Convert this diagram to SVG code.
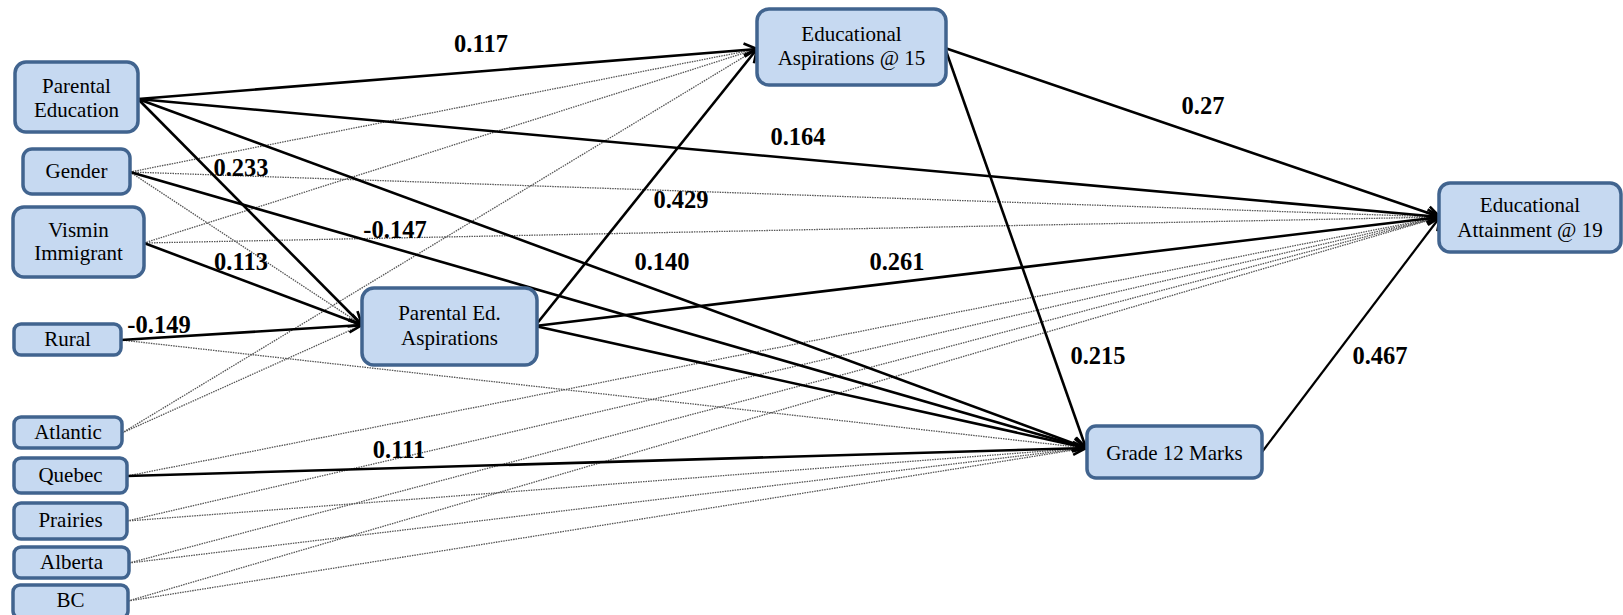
<svg xmlns="http://www.w3.org/2000/svg" width="1623" height="615" viewBox="0 0 1623 615">
<style>
.box{fill:#c6d9f1;stroke:#41648f;stroke-width:3.5}
.nt{font-size:21px;fill:#000;text-anchor:middle}
.lb{font-size:24.5px;font-weight:bold;fill:#000;text-anchor:middle}
.s{stroke:#000;stroke-width:2.6;fill:none;marker-end:url(#arr)}
.d{stroke:#555;stroke-width:1.3;fill:none;stroke-dasharray:1.5 1}
</style>
<defs>
<marker id="arr" markerUnits="userSpaceOnUse" markerWidth="16" markerHeight="16" refX="14" refY="8" orient="auto" overflow="visible">
<path d="M1,1.5 L14,8 L1,14.5" fill="none" stroke="#000" stroke-width="2.6"/>
</marker>
</defs>
<rect width="1623" height="615" fill="#fff"/>
<g id="connectors">
<line class="d" x1="130" y1="172" x2="757" y2="49"/>
<line class="d" x1="130" y1="172" x2="1440" y2="217"/>
<line class="d" x1="130" y1="172" x2="362" y2="325"/>
<line class="d" x1="144" y1="243" x2="757" y2="49"/>
<line class="d" x1="144" y1="243" x2="1440" y2="217"/>
<line class="d" x1="121" y1="340" x2="1086" y2="448"/>
<line class="d" x1="122" y1="433" x2="757" y2="49"/>
<line class="d" x1="122" y1="433" x2="362" y2="325"/>
<line class="d" x1="127" y1="476" x2="1440" y2="217"/>
<line class="d" x1="127" y1="521" x2="1440" y2="217"/>
<line class="d" x1="127" y1="521" x2="1086" y2="448"/>
<line class="d" x1="129" y1="563" x2="1440" y2="217"/>
<line class="d" x1="129" y1="563" x2="1086" y2="448"/>
<line class="d" x1="128" y1="601" x2="1440" y2="217"/>
<line class="d" x1="128" y1="601" x2="1086" y2="448"/>
<line class="s" x1="138" y1="99" x2="757" y2="49"/>
<line class="s" x1="138" y1="99" x2="1440" y2="217"/>
<line class="s" x1="138" y1="99" x2="362" y2="325"/>
<line class="s" x1="138" y1="99" x2="1086" y2="448"/>
<line class="s" x1="130" y1="172" x2="1086" y2="448"/>
<line class="s" x1="144" y1="243" x2="362" y2="325"/>
<line class="s" x1="121" y1="340" x2="362" y2="325"/>
<line class="s" x1="535" y1="326" x2="757" y2="49"/>
<line class="s" x1="535" y1="326" x2="1440" y2="217"/>
<line class="s" x1="535" y1="326" x2="1086" y2="448"/>
<line class="s" x1="945" y1="48" x2="1440" y2="217"/>
<line class="s" x1="945" y1="48" x2="1086" y2="448"/>
<line class="s" x1="1262" y1="452" x2="1440" y2="217" style="stroke-width:2.2"/>
<line class="s" x1="127" y1="476" x2="1086" y2="448"/>
</g>
<g id="labels" font-family="'Liberation Serif', 'Times New Roman', 'DejaVu Serif', serif">
<text class="lb" x="481" y="52">0.117</text>
<text class="lb" x="798" y="145">0.164</text>
<text class="lb" x="1203" y="114">0.27</text>
<text class="lb" x="241" y="176">0.233</text>
<text class="lb" x="241" y="270">0.113</text>
<text class="lb" x="395" y="238">-0.147</text>
<text class="lb" x="159" y="333">-0.149</text>
<text class="lb" x="681" y="208">0.429</text>
<text class="lb" x="662" y="270">0.140</text>
<text class="lb" x="897" y="270">0.261</text>
<text class="lb" x="1098" y="364">0.215</text>
<text class="lb" x="1380" y="364">0.467</text>
<text class="lb" x="399" y="458">0.111</text>
</g>
<g id="nodes" font-family="'Liberation Serif', 'Times New Roman', 'DejaVu Serif', serif">
<g id="n-parental-education"><rect class="box" x="15" y="62" width="123" height="70" rx="11"/><text class="nt" x="76.5" y="93">Parental</text><text class="nt" x="76.5" y="117">Education</text></g>
<g id="n-gender"><rect class="box" x="23" y="149" width="107" height="45" rx="9"/><text class="nt" x="76.5" y="178">Gender</text></g>
<g id="n-vismin"><rect class="box" x="13" y="207" width="131" height="70" rx="11"/><text class="nt" x="78.5" y="237">Vismin</text><text class="nt" x="78.5" y="260">Immigrant</text></g>
<g id="n-rural"><rect class="box" x="14" y="324" width="107" height="31" rx="7"/><text class="nt" x="67.5" y="346">Rural</text></g>
<g id="n-atlantic"><rect class="box" x="14" y="417" width="108" height="31" rx="7"/><text class="nt" x="68" y="439">Atlantic</text></g>
<g id="n-quebec"><rect class="box" x="14" y="458" width="113" height="35" rx="7"/><text class="nt" x="70.5" y="482">Quebec</text></g>
<g id="n-prairies"><rect class="box" x="14" y="503" width="113" height="36" rx="7"/><text class="nt" x="70.5" y="527">Prairies</text></g>
<g id="n-alberta"><rect class="box" x="14" y="547" width="115" height="31" rx="7"/><text class="nt" x="71.5" y="569">Alberta</text></g>
<g id="n-bc"><rect class="box" x="13" y="585" width="115" height="33" rx="7"/><text class="nt" x="70.5" y="607">BC</text></g>
<g id="n-parental-ed-aspirations"><rect class="box" x="362" y="288" width="175" height="77" rx="12"/><text class="nt" x="449.5" y="320">Parental Ed.</text><text class="nt" x="449.5" y="345">Aspirations</text></g>
<g id="n-edu-asp-15"><rect class="box" x="757" y="9" width="189" height="76" rx="12"/><text class="nt" x="851.5" y="41">Educational</text><text class="nt" x="851.5" y="65">Aspirations @ 15</text></g>
<g id="n-edu-att-19"><rect class="box" x="1439" y="183" width="182" height="69" rx="11"/><text class="nt" x="1530" y="212">Educational</text><text class="nt" x="1530" y="237">Attainment @ 19</text></g>
<g id="n-grade12"><rect class="box" x="1087" y="426" width="175" height="52" rx="9"/><text class="nt" x="1174.5" y="460">Grade 12 Marks</text></g>
</g>
</svg>
